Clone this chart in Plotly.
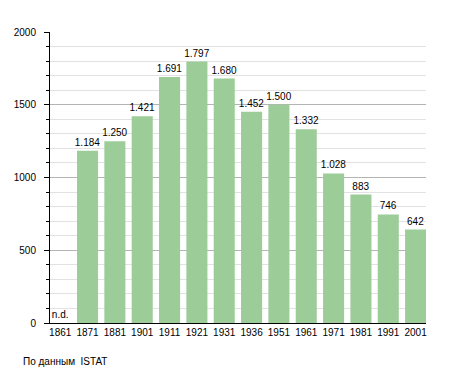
import plotly.graph_objects as go

years = ["1861", "1871", "1881", "1901", "1911", "1921", "1931", "1936",
         "1951", "1961", "1971", "1981", "1991", "2001"]
population = [None, 1184, 1250, 1421, 1691, 1797, 1680, 1452,
              1500, 1332, 1028, 883, 746, 642]
missing_label = "n.d."
y_ticks = [0, 500, 1000, 1500, 2000]
source_note = "По данным  ISTAT"

labels = [missing_label if v is None else f"{v:,}".replace(",", ".") for v in population]
bar_vals = [0 if v is None else v for v in population]

FONT = "Liberation Sans, Arial, sans-serif"

fig = go.Figure()
fig.add_trace(go.Bar(
    x=years, y=bar_vals, text=labels, textposition="outside",
    constraintext="none",
    textfont=dict(family=FONT, size=10, color="#000"),
    marker=dict(color="#9ccc98", line=dict(width=0)),
    width=0.77, cliponaxis=False, hoverinfo="skip",
))

fig.update_layout(
    width=455, height=373,
    margin=dict(l=50, r=29, t=32, b=50),
    paper_bgcolor="white", plot_bgcolor="white",
    showlegend=False,
    font=dict(family=FONT, size=10, color="#000"),
    xaxis=dict(
        type="category", range=[-0.373, 13.38],
        showline=True, linecolor="#000", linewidth=1,
        ticks="", showgrid=False,
        tickfont=dict(family=FONT, size=10, color="#000"),
    ),
    yaxis=dict(
        range=[0, 2000], tickvals=y_ticks, ticktext=[str(t) for t in y_ticks],
        showline=True, linecolor="#000", linewidth=1,
        ticks="outside", ticklen=5, tickcolor="#000",
        showgrid=True, gridcolor="#b4b4b4", gridwidth=1,
        zeroline=False,
        ticklabelstandoff=6,
        tickfont=dict(family=FONT, size=10, color="#000"),
        minor=dict(dtick=100, showgrid=True, gridcolor="#e2e2e2",
                   ticks="outside", ticklen=3, tickcolor="#000"),
    ),
    annotations=[dict(
        text=source_note, xref="paper", yref="paper",
        x=-0.077, y=-0.134, xanchor="left", yanchor="middle",
        showarrow=False, font=dict(family=FONT, size=10, color="#000"),
    )],
)

fig.write_html("out.html", config={"displayModeBar": False},
               post_script="document.body.style.margin='0';")
